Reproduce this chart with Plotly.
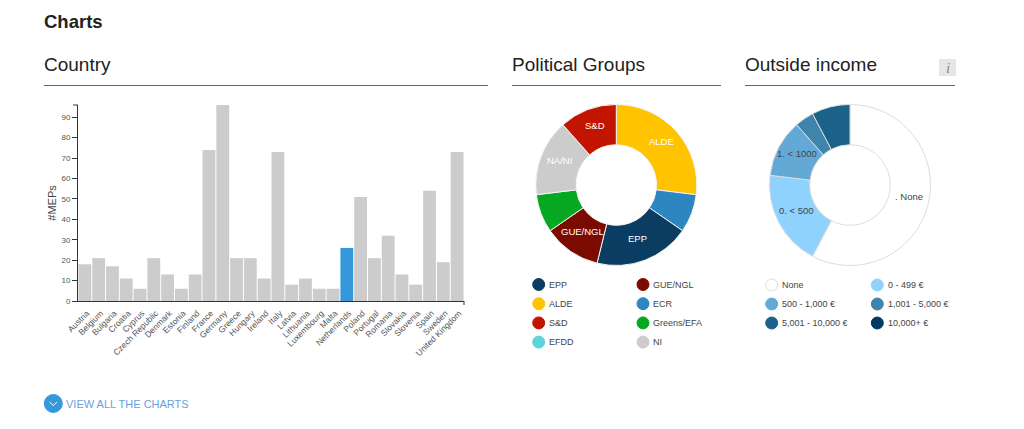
import math
import plotly.graph_objects as go

W, H = 1024, 429
FONT = "Liberation Sans, Arial, sans-serif"

countries = ["Austria", "Belgium", "Bulgaria", "Croatia", "Cyprus", "Czech Republic", "Denmark", "Estonia",
             "Finland", "France", "Germany", "Greece", "Hungary", "Ireland", "Italy", "Latvia", "Lithuania",
             "Luxembourg", "Malta", "Netherlands", "Poland", "Portugal", "Romania", "Slovakia", "Slovenia",
             "Spain", "Sweden", "United Kingdom"]
meps = [18, 21, 17, 11, 6, 21, 13, 6, 13, 74, 96, 21, 21, 11, 73, 8, 11, 6, 6, 26, 51, 21, 32, 13, 8, 54, 19, 73]
highlight = "Netherlands"

group_labels = ["ALDE", "ECR", "EPP", "GUE/NGL", "Greens/EFA", "NA/NI", "S&D"]
group_values = [7, 2, 5, 3, 2, 4, 3]
group_text = ["ALDE", "", "EPP", "GUE/NGL", "", "NA/NI", "S&D"]
group_colors = ["#ffc300", "#2e86c1", "#0b3c61", "#7b0b00", "#06a822", "#cccccc", "#c21500"]

group_legend = [("EPP", "#0b3c61"), ("GUE/NGL", "#7b0b00"), ("ALDE", "#ffc300"), ("ECR", "#2e86c1"),
                ("S&D", "#c21500"), ("Greens/EFA", "#06a822"), ("EFDD", "#5fd3dc"), ("NI", "#cccccc")]

income_labels = [". None", "0. < 500", "1. < 1000", "1,001 - 5,000", "5,001 - 10,000"]
income_values = [15, 5, 3, 1, 2]
income_text = [". None", "0. < 500", "1. < 1000", "", ""]
income_colors = ["#ffffff", "#8ed2fd", "#63a9d6", "#3f84ab", "#1a6288"]

income_legend = [("None", "#ffffff"), ("0 - 499 €", "#8ed2fd"), ("500 - 1,000 €", "#63a9d6"),
                 ("1,001 - 5,000 €", "#3f84ab"), ("5,001 - 10,000 €", "#1a6288"), ("10,000+ €", "#003a60")]


def px(x):
    return x / W


def py(y):
    return 1 - y / H


def text(x, y, s, size, color="#444444", anchor="left", **kw):
    # annotations carry a 2px inner pad, taken back here for left-aligned text
    x = x - 2 if anchor == "left" else x
    return dict(x=px(x), y=py(y), xref="paper", yref="paper", text=s, showarrow=False, xanchor=anchor,
                yanchor="middle", font=dict(family=kw.pop("family", FONT), size=size, color=color), **kw)


def line(x0, y0, x1, y1, color="#666666", width=1):
    return dict(type="line", xref="paper", yref="paper", x0=px(x0), y0=py(y0), x1=px(x1), y1=py(y1),
                line=dict(color=color, width=width))


def circle(cx, cy, r, fill, border=None):
    return dict(type="circle", xref="paper", yref="paper", x0=px(cx - r), x1=px(cx + r), y0=py(cy + r),
                y1=py(cy - r), fillcolor=fill, line=dict(color=border or fill, width=1))


fig = go.Figure()

fig.add_trace(go.Bar(
    x=countries, y=meps, width=0.93,
    marker=dict(color=["#3498db" if c == highlight else "#cccccc" for c in countries], line=dict(width=0)),
    hoverinfo="x+y", showlegend=False))

annotations = []


def pie(labels, values, txt, colors, cx, cy, r, text_color, border):
    fig.add_trace(go.Pie(
        labels=labels, values=values, textinfo="none", hole=0.5, sort=False, direction="clockwise", rotation=0,
        marker=dict(colors=colors, line=dict(color=border, width=1)),
        domain=dict(x=[px(cx - r), px(cx + r)], y=[py(cy + r), py(cy - r)]),
        showlegend=False))
    # slice labels sit on the middle of the ring, at each slice's mid angle
    total = sum(values)
    run = 0
    for v, t in zip(values, txt):
        mid = (run + v / 2) / total * 2 * math.pi
        run += v
        if t:
            annotations.append(text(cx + 0.75 * r * math.sin(mid), cy - 0.75 * r * math.cos(mid) - 3,
                                    t, 9.5, text_color, "center"))


pie(group_labels, group_values, group_text, group_colors, 616.3, 185, 80.5, "#ffffff", "#f4f4f4")
pie(income_labels, income_values, income_text, income_colors, 850, 185, 80.5, "#444444", "#dddddd")

shapes = [
    line(44, 85.5, 488, 85.5), line(512, 85.5, 721, 85.5), line(745, 85.5, 955, 85.5),
    line(73, 105, 78, 105, "#333333"), line(464, 301, 464, 305, "#333333"),
    dict(type="rect", xref="paper", yref="paper", x0=px(939), x1=px(956), y0=py(76), y1=py(59),
         fillcolor="#e6e6e6", line=dict(width=0)),
]
annotations += [
    text(44, 21, "<b>Charts</b>", 18.5, "#222222"),
    text(44, 65, "Country", 19, "#222222"),
    text(512, 65, "Political Groups", 19, "#222222"),
    text(745, 65, "Outside income", 19, "#222222"),
    text(947.5, 68, "<i>i</i>", 15, "#888888", "center", family="Liberation Serif, serif"),
    text(66, 403.5, "VIEW ALL THE CHARTS", 11, "#6a9fd8"),
]

for i, (name, color) in enumerate(group_legend):
    cx = 538.7 if i % 2 == 0 else 643
    cy = 284.5 + (i // 2) * 19.2
    shapes.append(circle(cx, cy, 6, color))
    annotations.append(text(cx + 10, cy, name, 9, "#444444"))

for i, (name, color) in enumerate(income_legend):
    cx = 771.7 if i % 2 == 0 else 877.3
    cy = 285 + (i // 2) * 19
    shapes.append(circle(cx, cy, 6, color, "#dddddd" if color == "#ffffff" else None))
    annotations.append(text(cx + 10.5, cy, name, 9, "#444444"))

shapes.append(circle(53.3, 403.5, 9, "#3498db"))
shapes.append(line(49.5, 402, 53.3, 405.5, "#ffffff"))
shapes.append(line(53.3, 405.5, 57, 402, "#ffffff"))

fig.update_layout(
    width=W, height=H, autosize=False, margin=dict(l=0, r=0, t=0, b=0),
    paper_bgcolor="#ffffff", plot_bgcolor="#ffffff", font=dict(family=FONT, color="#444444"),
    bargap=0.07, shapes=shapes, annotations=annotations,
    xaxis=dict(domain=[px(78), px(464)], range=[-0.5, 27.5], type="category", categoryorder="array",
               categoryarray=countries, tickangle=-45, tickfont=dict(size=8.5, color="#555555"),
               ticks="", showgrid=False, zeroline=False, showline=True, linecolor="#333333", linewidth=1,
               anchor="y", automargin=False, tickmode="array", tickvals=countries, ticktext=countries,
               ticklabelstandoff=3, ticklabelshift=2),
    yaxis=dict(domain=[py(301), py(105)], range=[0, 96], tickvals=list(range(0, 100, 10)),
               tickfont=dict(size=8, color="#555555"), ticks="outside", ticklen=5, tickcolor="#333333",
               showgrid=False, zeroline=False, showline=True, linecolor="#333333", linewidth=1,
               title=dict(text="#MEPs", font=dict(size=11, color="#444444"), standoff=2),
               anchor="x", automargin=False),
)

fig.write_html("out.html", config={"displayModeBar": False},
               post_script="document.body.style.margin='0';document.body.style.overflow='hidden';")
